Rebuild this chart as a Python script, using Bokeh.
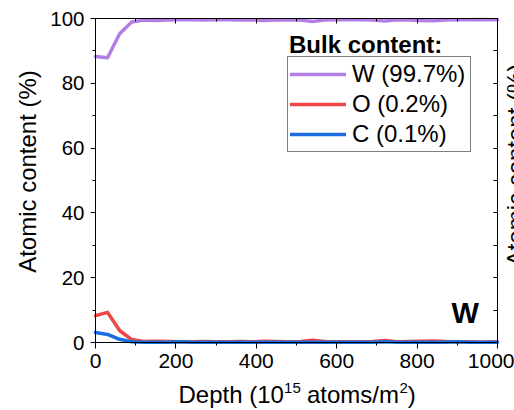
from math import pi

from bokeh.embed import file_html
from bokeh.models import (Label, Legend, LegendItem, LinearAxis, Range1d,
                          SingleIntervalTicker)
from bokeh.plotting import figure
from bokeh.resources import INLINE

# Depth profile (10^15 atoms/m^2) and atomic content (%) per element
depth = [0, 30, 60, 90, 120, 150, 180, 210, 240, 270, 300, 330, 360, 390, 420,
         450, 480, 510, 540, 570, 600, 630, 660, 690, 720, 750, 780, 810, 840,
         870, 900, 930, 960, 990, 1000]
w_content = [88.3, 87.9, 95.3, 98.9, 99.5, 99.4, 99.5, 99.6, 99.6, 99.5, 99.6,
             99.6, 99.5, 99.6, 99.4, 99.5, 99.6, 99.5, 99.1, 99.5, 99.6, 99.6,
             99.6, 99.5, 99.2, 99.6, 99.5, 99.4, 99.3, 99.5, 99.6, 99.6, 99.7,
             99.6, 99.6]
o_content = [8.3, 9.3, 3.7, 0.9, 0.3, 0.4, 0.3, 0.2, 0.2, 0.3, 0.2, 0.2, 0.3,
             0.2, 0.4, 0.3, 0.2, 0.3, 0.7, 0.3, 0.2, 0.2, 0.2, 0.3, 0.6, 0.2,
             0.3, 0.4, 0.5, 0.3, 0.2, 0.2, 0.1, 0.2, 0.2]
c_content = [3.1, 2.5, 1.0, 0.2, 0.1, 0.1, 0.1, 0.2, 0.1, 0.1, 0.1, 0.1, 0.1,
             0.1, 0.1, 0.1, 0.1, 0.1, 0.1, 0.1, 0.1, 0.1, 0.1, 0.1, 0.2, 0.1,
             0.1, 0.1, 0.1, 0.1, 0.2, 0.1, 0.1, 0.1, 0.1]

series_labels = ["W (99.7%)", "O (0.2%)", "C (0.1%)"]
series_colors = ["#b27ee3", "#ef4545", "#1c6ee0"]

x_lo, x_hi = 0, 1000
y_lo, y_hi = 0, 100

FONT = "Liberation Sans"
W, H = 514, 410
# plot box inside the canvas (pixels from the top-left corner)
BOX_L, BOX_R, BOX_T, BOX_B = 95, 497, 18, 342
px_x = (BOX_R - BOX_L) / (x_hi - x_lo)
px_y = (BOX_B - BOX_T) / (y_hi - y_lo)

# The frame spans the whole canvas; axes are pinned to the plot box edges so
# that titles around the box can be drawn as ordinary labels.
p = figure(width=W, height=H, output_backend="svg", toolbar_location=None,
           x_range=Range1d(x_lo - BOX_L / px_x, x_hi + (W - BOX_R) / px_x),
           y_range=Range1d(y_lo - (H - BOX_B) / px_y, y_hi + BOX_T / px_y),
           min_border_left=0, min_border_right=0, min_border_top=0,
           min_border_bottom=0)
p.grid.visible = False
p.xaxis.visible = False
p.yaxis.visible = False
p.outline_line_color = None
p.background_fill_color = "white"
p.border_fill_color = "white"


def make_axis(interval, loc, bounds, tick_in, tick_out, minor_in, minor_out,
              label_size, standoff, show_labels=True):
    ax = LinearAxis(ticker=SingleIntervalTicker(interval=interval,
                                                num_minor_ticks=2),
                    fixed_location=loc, bounds=bounds)
    ax.axis_line_color = "black"
    ax.axis_line_width = 1
    ax.major_tick_line_color = "black"
    ax.minor_tick_line_color = "black"
    ax.major_tick_in = tick_in
    ax.major_tick_out = tick_out
    ax.minor_tick_in = minor_in
    ax.minor_tick_out = minor_out
    ax.major_label_text_font = FONT
    ax.major_label_text_font_size = label_size
    ax.major_label_standoff = standoff
    ax.major_label_text_color = "black" if show_labels else None
    return ax


# bottom and left axes carry labels with outward ticks
p.add_layout(make_axis(200, y_lo, (x_lo, x_hi), 0, 6, 0, 3, "21px", 5), "below")
p.add_layout(make_axis(20, x_lo, (y_lo, y_hi), 0, 5, 0, 3, "20.5px", 6), "left")
# top and right edges only carry inward ticks
p.add_layout(make_axis(200, y_hi, (x_lo, x_hi), 5, 0, 3, 0, "1px", 0,
                       show_labels=False), "above")
p.add_layout(make_axis(20, x_hi, (y_lo, y_hi), 4, 0, 4, 0, "1px", 0,
                       show_labels=False), "right")

renderers = []
for values, color in zip([w_content, o_content, c_content], series_colors):
    r = p.line(depth, values, line_color=color, line_width=3.5,
               line_join="round", line_cap="round")
    renderers.append(r)

legend = Legend(
    items=[LegendItem(label=lab, renderers=[r])
           for lab, r in zip(series_labels, renderers)],
    location=(287, H - 152), margin=0, padding=2, spacing=0,
    glyph_width=56, glyph_height=30, label_height=30, label_width=116,
    label_standoff=6, label_text_font=FONT, label_text_font_size="24px",
    label_text_color="black", border_line_color="black",
    border_line_width=1, background_fill_color="white",
    background_fill_alpha=1.0,
)
p.add_layout(legend)

BASE_SHIFT = 0.37  # baseline offset of rendered labels, in em


def add_text(text, x, baseline, size, bold=False, vertical=False,
             align="left"):
    """Place text by canvas pixel position of its baseline."""
    shift = BASE_SHIFT * size
    if vertical:
        lx, ly, angle = x - shift, H - baseline, pi / 2
    else:
        lx, ly, angle = x, H - (baseline - shift), 0.0
    p.add_layout(Label(x=lx, y=ly, x_units="screen", y_units="screen",
                       text=text, text_font=FONT, text_font_size=f"{size}px",
                       text_font_style="bold" if bold else "normal",
                       text_color="black", text_align=align,
                       text_baseline="alphabetic", angle=angle))


add_text("Bulk content:", 288.5, 52.7, 24, bold=True)
add_text("W", 451, 323.3, 29, bold=True)

# y axis title, plus the title of the neighbouring panel at the right edge
add_text("Atomic content (%)", 36, 171, 24, vertical=True, align="center")
add_text("Atomic content (%)", 524, 164.5, 24, vertical=True, align="center")

# x axis title with superscripts
add_text("Depth (10", 178, 403, 24)
add_text("15", 283.6, 392.7, 15)
add_text("atoms/m", 306.5, 403, 24)
add_text("2", 399.0, 392.7, 15)
add_text(")", 407.3, 403, 24)

open("out.html", "w").write(file_html(p, INLINE))
